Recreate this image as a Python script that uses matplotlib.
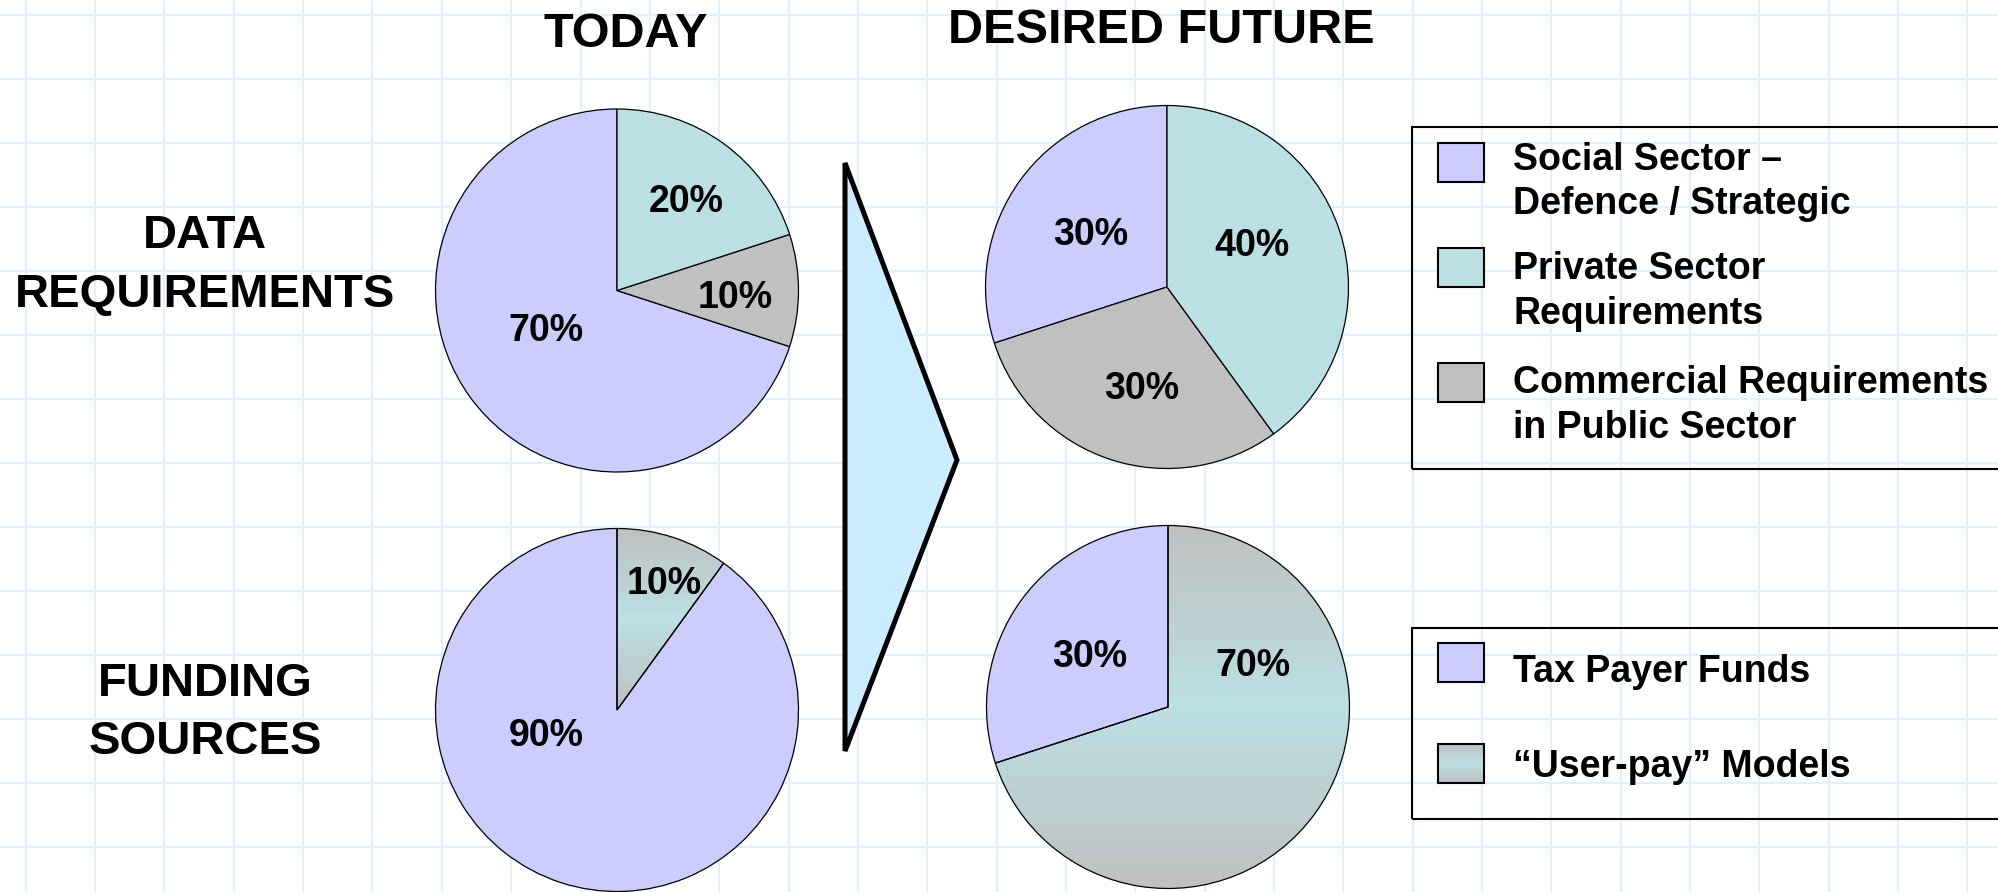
import numpy as np
import matplotlib
matplotlib.use("Agg")
import matplotlib.pyplot as plt
from matplotlib.patches import Rectangle, Polygon
from matplotlib.colors import LinearSegmentedColormap

# ---- chart data ----
column_titles = ["TODAY", "DESIRED FUTURE"]
row_labels = ["DATA\nREQUIREMENTS", "FUNDING\nSOURCES"]

# data requirements, counter-clockwise from 12 o'clock: social, commercial, private
data_today = [70, 10, 20]
data_future = [30, 30, 40]
# funding, counter-clockwise from 12 o'clock: tax payer, user-pay
funding_today = [90, 10]
funding_future = [30, 70]

data_legend = ["Social Sector –\nDefence / Strategic",
               "Private Sector\nRequirements",
               "Commercial Requirements\nin Public Sector"]
funding_legend = ["Tax Payer Funds", "“User-pay” Models"]

# ---- colours ----
lavender = "#CCCCFF"
teal = "#BBE0E3"
grey = "#C0C0C0"
data_colors = [lavender, grey, teal]
data_legend_colors = [lavender, teal, grey]
userpay_cmap = LinearSegmentedColormap.from_list("userpay", [grey, teal, grey])

plt.rcParams['font.family'] = ['Liberation Sans', 'DejaVu Sans']

# figure in pixel units, y measured upwards
W, H = 1998, 892
fig = plt.figure(figsize=(W / 100, H / 100), dpi=100)
ax = fig.add_axes([0, 0, 1, 1])


def fy(y):
    # convert a top-down pixel row into the upward axis coordinate
    return H - y


def gradient_fill(patch, extent):
    # grey-teal-grey vertical gradient clipped to a patch
    grad = np.linspace(0, 1, 256).reshape(-1, 1)
    im = ax.imshow(grad, cmap=userpay_cmap, extent=extent, origin="lower",
                   aspect="auto", zorder=1.5, interpolation="bilinear")
    im.set_clip_path(patch)


def put_lines(x, baseline, text, step, size, ha="left"):
    for i, line in enumerate(text.split("\n")):
        ax.text(x, fy(baseline + i * step), line, fontsize=size,
                fontweight="bold", ha=ha, va="baseline")


# graph paper background
for gx in np.arange(25.7, W, 69.35):
    ax.axvline(gx, color="#E1F0FF", lw=1.6, zorder=0)
for gy in np.arange(15, H, 64.0):
    ax.axhline(fy(gy), color="#E1F0FF", lw=1.6, zorder=0)

# titles and row labels
ax.text(626, fy(47), column_titles[0], fontsize=35, fontweight="bold", ha="center", va="baseline")
ax.text(1161, fy(43), column_titles[1], fontsize=35, fontweight="bold", ha="center", va="baseline")
put_lines(205, 248, row_labels[0], 59, 34, ha="center")
put_lines(205, 696, row_labels[1], 58, 34, ha="center")

# big arrow between today and future
ax.add_patch(Polygon([[845, fy(163)], [845, fy(751)], [957, fy(460)]], closed=True,
                     facecolor="#CCECFF", edgecolor="black", lw=3.6, joinstyle="miter", zorder=2))

# pies: (values, centre, label offsets as fractions of radius, user-pay slice index)
r = 181.5
pies = [
    (data_today, (617, 290.5), [(-0.39, -0.21), (0.65, -0.03), (0.38, 0.50)], None),
    (data_future, (1167, 287), [(-0.42, 0.30), (-0.14, -0.55), (0.47, 0.24)], None),
    (funding_today, (617, 710), [(-0.39, -0.13), (0.26, 0.71)], 1),
    (funding_future, (1168, 707), [(-0.43, 0.29), (0.47, 0.24)], 1),
]

for values, (cx, cy), offsets, userpay in pies:
    colors = data_colors if userpay is None else [lavender, "none"]
    wedges, _ = ax.pie(values, colors=colors, startangle=90, counterclock=True,
                       center=(cx, fy(cy)), radius=r, frame=True,
                       wedgeprops=dict(edgecolor="black", linewidth=0.9, zorder=2))
    if userpay is not None:
        bb = wedges[userpay].get_path().get_extents()
        gradient_fill(wedges[userpay], [bb.x0, bb.x1, bb.y0, bb.y1])
    for v, (dx, dy) in zip(values, offsets):
        ax.text(cx + dx * r, fy(cy) + dy * r - 12.5, f"{v}%", fontsize=27,
                fontweight="bold", ha="center", va="baseline", zorder=3)

# legend for data requirements
ax.add_patch(Rectangle((1412, fy(469)), 700, 342, fill=False, edgecolor="black", lw=1.5, zorder=3))
for label, color, sq_top, base in zip(data_legend, data_legend_colors, [143, 248, 363], [170, 279, 393]):
    ax.add_patch(Rectangle((1438, fy(sq_top + 39)), 46, 39, facecolor=color,
                           edgecolor="black", lw=1.5, zorder=3))
    put_lines(1513, base, label, 44.5, 27)

# legend for funding sources
ax.add_patch(Rectangle((1412, fy(819)), 700, 191, fill=False, edgecolor="black", lw=1.5, zorder=3))
for i, (label, sq_top, base) in enumerate(zip(funding_legend, [643, 744], [682, 777])):
    sq = Rectangle((1438, fy(sq_top + 39)), 46, 39, facecolor=lavender if i == 0 else "none",
                   edgecolor="black", lw=1.5, zorder=3)
    ax.add_patch(sq)
    if i == 1:
        gradient_fill(sq, [1438, 1484, fy(sq_top + 39), fy(sq_top)])
    put_lines(1513, base, label, 44.5, 27)

ax.set_xlim(0, W)
ax.set_ylim(0, H)
ax.set_aspect("auto")
ax.axis("off")

fig.savefig("out.png", dpi=100, facecolor="white")
